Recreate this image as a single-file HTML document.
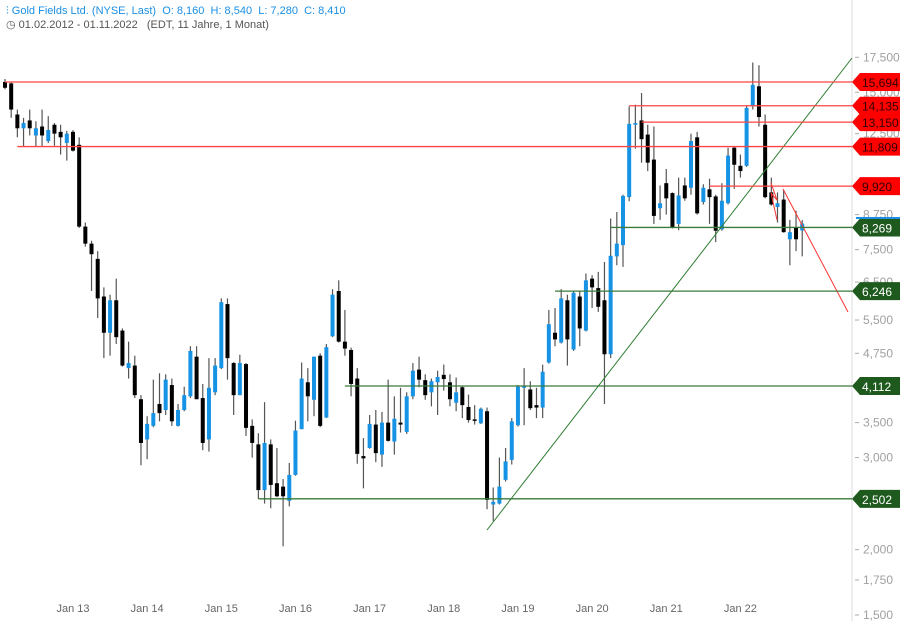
<!DOCTYPE html>
<html><head><meta charset="utf-8"><style>
body{margin:0;background:#fff;width:900px;height:621px;overflow:hidden;font-family:"Liberation Sans",sans-serif}
#hdr{position:absolute;left:6px;top:4px;font-size:11px;line-height:14px}
#hdr .t{color:#1a8fe3}
#hdr .d{color:#555}
svg{position:absolute;left:0;top:0}
</style></head><body>
<svg id="chart" width="900" height="621"></svg>
<div id="hdr">
<div class="t">⫶ Gold Fields Ltd. (NYSE, Last)&nbsp; O: 8,160&nbsp; H: 8,540&nbsp; L: 7,280&nbsp; C: 8,410</div>
<div class="d">◷ 01.02.2012 - 01.11.2022&nbsp;&nbsp; (EDT, 11 Jahre, 1 Monat)</div>
</div>
<script>
const opens=[15700,15600,13600,12800,13250,12400,12900,12100,13000,12600,12000,12600,11900,8300,7700,7200,6100,5200,6000,5250,4450,4500,3880,3250,3450,3800,3700,4130,3450,3700,3930,4680,3900,3250,4000,4450,5900,4550,3950,4530,3450,3180,2600,3180,2680,2640,2480,2780,3400,4180,3870,4700,3580,5120,6250,5000,4820,4250,3020,3130,3470,3040,3500,3220,3500,3360,3930,4420,4220,4000,4180,4320,4180,3820,4090,3750,3550,3490,3680,2440,2450,2720,2970,3460,4080,4050,3780,3740,4560,5200,4980,6000,4830,6100,5250,6600,6330,6000,4730,7280,7650,9450,13000,13250,12450,11150,9000,10050,9620,8400,9950,9850,12300,9250,9780,9480,8200,9200,11750,10850,10850,14100,15400,13000,9650,9050,9350,7850,8250,8160];
const highs=[15900,15700,13900,13400,13900,13200,13900,13500,13100,13000,12650,12700,12300,8450,7800,7450,6350,6150,6600,5300,5000,4700,3950,3600,4230,4350,4330,4250,3800,4100,4900,4900,4150,4650,4650,6050,6050,4570,4720,4550,3550,3340,3830,3250,3130,2730,2930,3530,4560,4450,4680,4750,4950,6300,6550,5750,4870,4450,3270,3620,3700,3670,4230,3930,4080,4000,4550,4680,4330,4250,4400,4520,4330,4270,4120,3960,3780,3740,3740,2630,3000,3130,3570,4130,4450,4200,4080,4520,5750,5800,6300,6150,6250,6250,6750,6700,6800,7100,8600,8850,9550,14100,14200,14950,13000,12900,9950,10700,9650,10300,10300,12500,12600,10000,10250,9550,10050,11750,11800,11400,14150,17100,16900,13600,10300,9650,9750,8550,8900,8540];
const lows=[15200,13400,12300,11800,12400,11800,11800,12000,11850,11400,11100,11550,8250,7600,6250,5550,4650,4700,4950,4480,4250,3900,2900,2980,3430,3520,3620,3450,3440,3680,3900,3880,3100,3080,3950,4430,4230,3620,3950,3300,3000,2500,2450,2400,2520,2030,2420,2770,3400,3520,3600,3430,3570,5100,4980,4700,3930,2920,2620,3120,2940,2880,3220,3040,3350,3330,3880,4090,3870,3760,3620,4030,3760,3680,3570,3500,3470,3480,2390,2270,2440,2700,2910,3440,3460,3700,3570,3570,4540,4900,4960,4500,4800,4900,5230,5800,5700,3800,4650,7000,6950,9280,11700,11000,10600,8400,8550,8750,8230,8170,9300,9550,8750,9150,8400,7750,8150,9150,9800,10300,10800,13900,12900,9400,9100,8450,8080,7000,7450,7280];
const closes=[15300,13900,12800,13100,12800,12800,12400,12700,12500,12300,12500,11600,8300,7700,7350,6050,5200,6000,5100,4500,4550,3950,3200,3480,3650,3650,4230,3520,3700,3950,4800,3880,3200,4080,4500,5950,4650,3950,4550,3420,3200,2600,3200,2660,2530,2530,2780,3380,4250,3930,4680,3450,4880,6150,5000,4850,4150,3050,2990,3480,3060,3500,3230,3560,3470,3930,4400,4230,3950,4200,4280,4240,3880,4000,3780,3540,3530,3720,2490,2470,2640,2950,3520,4100,4120,3730,3740,4380,5400,5050,6050,5050,6200,5300,6550,6350,5830,4730,7300,7700,9500,13050,13100,12200,11000,8700,9200,9400,8250,9520,9400,12100,8800,9850,9450,8150,9300,11350,10900,10600,14000,15500,13450,9450,9150,9200,8100,8100,7850,8410];
const yTicks=[17500,15000,12500,8750,7500,6500,5500,4750,3500,3000,2000,1750,1500];
const xLabels=["Jan 13","Jan 14","Jan 15","Jan 16","Jan 17","Jan 18","Jan 19","Jan 20","Jan 21","Jan 22"];
const xLabelIdx=[11,23,35,47,59,71,83,95,107,119];
const redLevels=[15694,14135,13150,11809,9920];
const redStarts=[0,101,103,2,114];
const greenLevels=[8269,6246,4112,2502];
const greenStarts=[98,89,55,41];

const NS="http://www.w3.org/2000/svg";
const svg=document.getElementById('chart');
const AX=852;
function y(v){return 82-227*Math.log(v/15694);}
function x(i){return 5+i*6.18;}
function el(t,a,p){const e=document.createElementNS(NS,t);for(const k in a)e.setAttribute(k,a[k]);(p||svg).appendChild(e);return e;}
function fmt(v){return v.toLocaleString('en-US');}

// axis
let a=el('line',{x1:AX,y1:0,x2:AX,y2:621,stroke:'#ddd'});


yTicks.forEach(v=>{
  const t=el('line',{x1:AX+3,x2:AX+7,y1:y(v),y2:y(v),stroke:'#aaa'});
  
  
  const tx=el('text',{x:AX+11,y:y(v)+4,fill:'#a0a0a0','font-size':12});
  
  
  tx.textContent=fmt(v);
});
xLabels.forEach((s,k)=>{
  const tx=el('text',{x:x(xLabelIdx[k]),y:612,fill:'#666','font-size':11,'text-anchor':'middle'});
  
  
  tx.textContent=s;
});

// candles
for(let i=0;i<opens.length;i++){
  const up=closes[i]>=opens[i];
  const g=el('g',{});
  
  
  el('line',{x1:x(i),x2:x(i),y1:y(highs[i]),y2:y(lows[i]),stroke:'#555','stroke-width':1.2},g);
  const t=Math.min(y(opens[i]),y(closes[i]));const h=Math.max(1.5,Math.abs(y(opens[i])-y(closes[i])));
  el('rect',{x:x(i)-2,y:t,width:4,height:h,fill:up?'#1793e6':'#000'},g);
}

// trend lines
let tl=el('line',{x1:487,y1:530,x2:852,y2:58,stroke:'#2e7d32','stroke-width':1});


let rt=el('line',{x1:783,y1:189,x2:848,y2:312,stroke:'#f33','stroke-width':1});


let rs=el('polyline',{points:'771,183 777,200 771,193 777,220',fill:'none',stroke:'#f33','stroke-width':1});



function level(v,start,lineCol,bg,fg,name){
  const l=el('line',{x1:x(start),x2:AX,y1:y(v),y2:y(v),stroke:lineCol,'stroke-width':1.3});
  
  
  const yy=y(v);
  const p=el('polygon',{points:`${AX},${yy} ${AX+8},${yy-9} 900,${yy-9} 900,${yy+9} ${AX+8},${yy+9}`,fill:bg});
  
  
  const tx=el('text',{x:AX+10,y:yy+5,fill:fg,'font-size':12});
  
  
  tx.textContent=fmt(v);
}
redLevels.forEach((v,k)=>level(v,redStarts[k],'#f44','#f00','#300','resistance-level'));
greenLevels.forEach((v,k)=>level(v,greenStarts[k],'#3a7a3a','#1e5a1e','#fff','support-level'));
let cur=el('line',{x1:AX+4,x2:900,y1:y(8269)-9.5,y2:y(8269)-9.5,stroke:'#1a8fe3','stroke-width':2});


</script>
</body></html>
